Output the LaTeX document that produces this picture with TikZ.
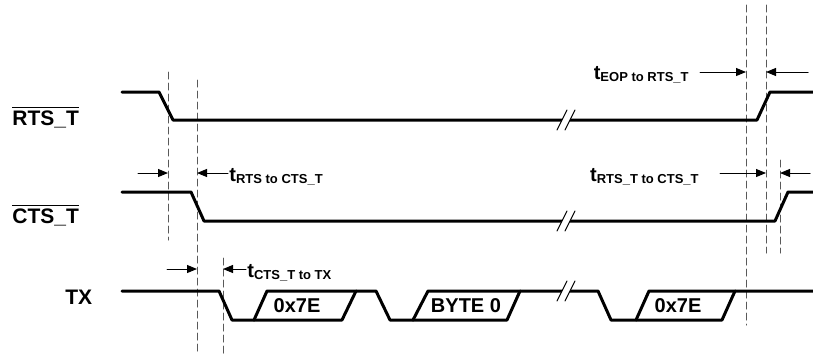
\documentclass[tikz,border=0pt]{standalone}
\usepackage{fontspec}
\setmainfont{Liberation Sans}
\usetikzlibrary{arrows.meta}
\tikzset{
  sig/.style={line width=1.5pt},
  guide/.style={black!65,line width=0.5pt,dash pattern=on 3.5pt off 2pt},
  dim/.style={line width=0.5pt},
  brk/.style={line width=0.5pt},
  tlab/.style={font=\bfseries\fontsize{10}{12}\selectfont,inner sep=0pt},
  sname/.style={font=\bfseries\fontsize{10.5}{12}\selectfont,inner sep=0pt,anchor=base west},
  dlab/.style={font=\bfseries\fontsize{10}{12}\selectfont,inner sep=0pt}
}
\newcommand{\tsub}[1]{t\raisebox{-1pt}{\fontsize{6.5}{7}\selectfont #1}}
\newcommand{\sigbar}[1]{$\overline{\mbox{#1}}$}

\begin{document}
\begin{tikzpicture}
			[line cap=round,line join=round,>={Triangle[length=5pt,width=4pt]},x=0.5pt,y=-0.5pt]
			\useasboundingbox (0,0) rectangle (813,354);
			% dashed guides
			\draw[guide] (168,72) -- (168,240);
			\draw[guide] (197,80) -- (197,354);
			\draw[guide] (223,258) -- (223,354);
			\draw[guide] (746,5) -- (746,325);
			\draw[guide] (766,5) -- (766,253);
			\draw[guide] (780,160) -- (780,253);
			% signals
			\draw[sig] (122,92) -- (159,92) -- (173,120) -- (757,120) -- (770,92) -- (813,92);
			\draw[sig] (122,192) -- (191,192) -- (204,221) -- (775,221) -- (788,192) -- (813,192);
			\draw[sig] (122,291) -- (219,291) -- (232,320) -- (254,320) -- (267,291) -- (376,291) -- (390,320) -- (413,320) -- (428,291) -- (598,291) -- (611,320) -- (636,320) -- (649,291) -- (813,291);
			\draw[sig] (254,320) -- (342,320) -- (356,291);
			\draw[sig] (413,320) -- (507,320) -- (520,291);
			\draw[sig] (636,320) -- (722,320) -- (735,291);
			% breaks
			\foreach \yy in {120,221,291}{
				\fill[white] (557,\yy+10) -- (567,\yy-10) -- (575,\yy-10) -- (565,\yy+10) -- cycle;
				\draw[brk] (557,\yy+10) -- (567,\yy-10);
				\draw[brk] (565,\yy+10) -- (575,\yy-10);
			}
			% timing arrows
			\draw[dim,->] (138,173) -- (168,173);
			\draw[dim,->] (228,173) -- (197,173);
			\draw[dim,->] (167,269) -- (197,269);
			\draw[dim,->] (246,269) -- (223,269);
			\draw[dim,->] (700,72) -- (746,72);
			\draw[dim,->] (808,72) -- (766,72);
			\draw[dim,->] (720,173) -- (766,173);
			\draw[dim,->] (810,173) -- (780,173);
			% labels
			\node[tlab,anchor=base west] (lrc) at (229,181) {\tsub{RTS to CTS\_T}};
			\node[tlab,anchor=base west] (lct) at (247,277) {\tsub{CTS\_T to TX}};
			\node[tlab,anchor=base east] (leop) at (689,79) {\tsub{EOP to RTS\_T}};
			\node[tlab,anchor=base east] (lrtc) at (699,181) {\tsub{RTS\_T to CTS\_T}};
			\node[sname] (rts) at (12,125) {\sigbar{RTS\_T}};
			\node[sname] (cts) at (12,223) {\sigbar{CTS\_T}};
			\node[sname] (tx) at (65,304) {TX};
			\node[dlab] (d1) at (297,306) {0x7E};
			\node[dlab] (d2) at (466,306) {BYTE 0};
			\node[dlab] (d3) at (678,306) {0x7E};
		\end{tikzpicture}
\end{document}
